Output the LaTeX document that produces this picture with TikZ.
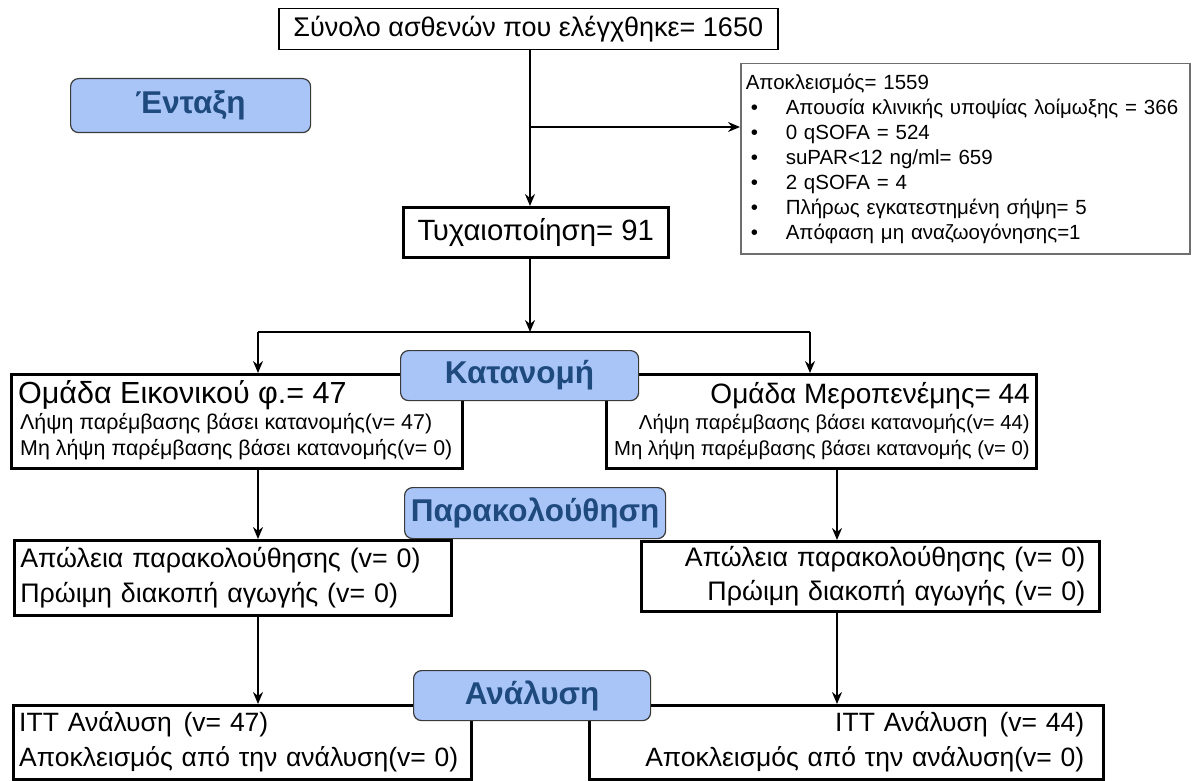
\documentclass[tikz,border=0pt]{standalone}
\usepackage{fontspec}
\setmainfont{Liberation Sans}
\usetikzlibrary{arrows.meta}
\definecolor{btnfill}{HTML}{A9C5F8}
\definecolor{btntext}{HTML}{1F4A7E}
\definecolor{btnline}{HTML}{3A3A3A}
\definecolor{exline}{HTML}{6E6E6E}
\newcommand{\fsz}[2]{\fontsize{#1}{#2}\selectfont}
\newcommand{\bul}{\hspace*{5pt}\makebox[35pt][l]{\textbullet}}
\begin{document}
\begin{tikzpicture}[x=1pt,y=-1pt,
  box/.style={draw=black, line width=2.5pt, fill=white, anchor=north west, inner xsep=6pt, inner ysep=0pt},
  btn/.style={draw=btnline, line width=1.2pt, fill=btnfill, rounded corners=8pt, anchor=north west,
    text=btntext, font=\bfseries\fsz{31.5}{36}, inner sep=0pt},
  lineL/.style={anchor=base west, inner sep=0pt},
  lineR/.style={anchor=base east, inner sep=0pt},
  arr/.style={line width=2pt, -{Stealth[length=12pt,width=10pt,inset=4pt]}},
  ln/.style={line width=2pt}]
\useasboundingbox (0,0) rectangle (1192,781);

% boxes
\node[box, line width=1.5pt, minimum width=499pt, minimum height=41pt, font=\fsz{27}{32}] (top) at (278,8) {Σύνολο ασθενών που ελέγχθηκε= 1650};
\node[box, draw=exline, line width=1.5pt, minimum width=449pt, minimum height=190pt, inner xsep=5pt,
  text width=439pt, align=left, font=\fsz{20.5}{25}] (excl) at (740,63) {Αποκλεισμός= 1559\\
\bul Απουσία κλινικής υποψίας λοίμωξης = 366\\
\bul 0 qSOFA = 524\\
\bul suPAR<12 ng/ml= 659\\
\bul 2 qSOFA = 4\\
\bul Πλήρως εγκατεστημένη σήψη= 5\\
\bul Απόφαση μη αναζωογόνησης=1};
\node[box, minimum width=265pt, minimum height=50pt, font=\fsz{29.3}{32}] (tyx) at (402,206) {Τυχαιοποίηση= 91};

% group boxes
\node[box, minimum width=451pt, minimum height=94pt] (gL) at (10,373) {};
\node[lineL, font=\fsz{30.5}{33}] (gL1) at (18,403) {Ομάδα Εικονικού φ.= 47};
\node[lineL, font=\fsz{21.4}{24}] (gL2) at (20,429) {Λήψη παρέμβασης βάσει κατανομής(v= 47)};
\node[lineL, font=\fsz{21.4}{24}] (gL3) at (20,455) {Μη λήψη παρέμβασης βάσει κατανομής(v= 0)};

\node[box, minimum width=430pt, minimum height=94pt] (gR) at (605,373) {};
\node[lineR, font=\fsz{28}{33}] (gR1) at (1030,403) {Ομάδα Μεροπενέμης= 44};
\node[lineR, font=\fsz{20.3}{24}] (gR2) at (1030,429) {Λήψη παρέμβασης βάσει κατανομής(v= 44)};
\node[lineR, font=\fsz{20.3}{24}] (gR3) at (1030,455) {Μη λήψη παρέμβασης βάσει κατανομής (v= 0)};

% follow-up boxes
\node[box, minimum width=437pt, minimum height=75pt, text width=425pt, align=left, font=\fsz{26.8}{35}] (fL) at (13,539)
  {Απώλεια παρακολούθησης (v= 0)\\Πρώιμη διακοπή αγωγής (v= 0)};
\node[box, minimum width=458pt, minimum height=70pt, text width=430pt, inner xsep=14pt, align=right, font=\fsz{26.8}{34}] (fR) at (640,540)
  {Απώλεια παρακολούθησης (v= 0)\\Πρώιμη διακοπή αγωγής (v= 0)};

% analysis boxes
\node[box, minimum width=458pt, minimum height=74pt, text width=446pt, align=left, font=\fsz{26.5}{35}] (aL) at (12,704)
  {ITT Ανάλυση\hspace{3pt} (v= 47)\\Αποκλεισμός από την ανάλυση(v= 0)};
\node[box, minimum width=514pt, minimum height=74pt, text width=476pt, inner xsep=19pt, align=right, font=\fsz{26.5}{35}] (aR) at (588,704)
  {ITT Ανάλυση\hspace{3pt} (v= 44)\\Αποκλεισμός από την ανάλυση(v= 0)};

% buttons
\node[btn, minimum width=240pt, minimum height=54pt] (b1) at (70,78) {Ένταξη};
\node[btn, minimum width=238pt, minimum height=50pt] (b2) at (400,350) {Κατανομή};
\node[btn, minimum width=261pt, minimum height=51pt] (b3) at (404,487) {Παρακολούθηση};
\node[btn, minimum width=237pt, minimum height=50pt] (b4) at (413,670) {Ανάλυση};

% connector coordinates
\coordinate (cx) at (530,127);
\coordinate (sp) at (530,332);
\coordinate (xL) at (258,0);
\coordinate (xR) at (810,0);
\coordinate (xR2) at (837,0);

\draw[arr] (top.south -| cx) -- (tyx.north -| cx);
\draw[arr] (cx) -- (excl.west |- cx);
\draw[arr] (tyx.south -| sp) -- (sp);
\draw[ln] (sp -| xL) -- (sp -| xR);
\draw[arr] (sp -| xL) -- (gL.north -| xL);
\draw[arr] (sp -| xR) -- (gR.north -| xR);
\draw[arr] (gL.south -| xL) -- (fL.north -| xL);
\draw[arr] (gR.south -| xR2) -- (fR.north -| xR2);
\draw[arr] (fL.south -| xL) -- (aL.north -| xL);
\draw[arr] (fR.south -| xR2) -- (aR.north -| xR2);
\end{tikzpicture}
\end{document}
